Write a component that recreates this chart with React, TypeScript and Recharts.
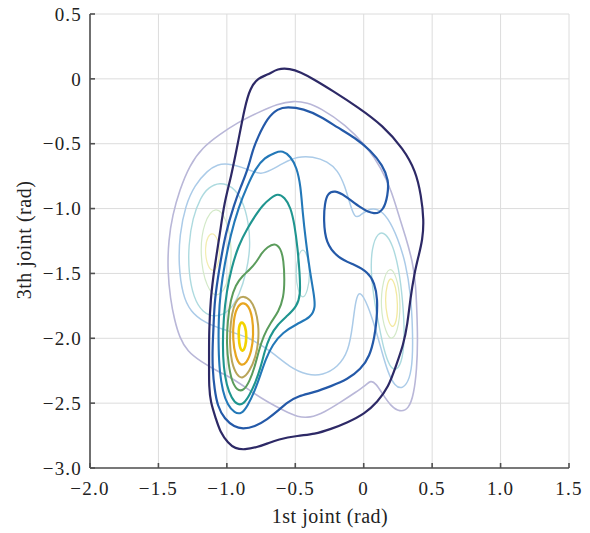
import React from 'react';
import { ScatterChart, Scatter, XAxis, YAxis, CartesianGrid } from 'recharts';

type P = [number, number];

// Bold contour levels (outer to inner)
const navy: P[] = [
  [-0.70, 0.03], [-0.63, 0.08], [-0.54, 0.08], [-0.46, 0.05], [-0.37, 0.0], [-0.23, -0.09], [-0.04, -0.22],
  [0.14, -0.36], [0.29, -0.54], [0.38, -0.71], [0.42, -0.90], [0.44, -1.09], [0.43, -1.24], [0.40, -1.37],
  [0.37, -1.50], [0.34, -1.70], [0.32, -1.89], [0.29, -2.05], [0.24, -2.20], [0.18, -2.38], [0.10, -2.49],
  [0.01, -2.58], [-0.12, -2.65], [-0.24, -2.70], [-0.36, -2.74], [-0.48, -2.75], [-0.63, -2.78], [-0.70, -2.81],
  [-0.78, -2.84], [-0.87, -2.86], [-0.94, -2.85], [-0.99, -2.81], [-1.05, -2.72], [-1.08, -2.62], [-1.12, -2.49],
  [-1.13, -2.37], [-1.13, -2.24], [-1.13, -2.11], [-1.13, -1.96], [-1.12, -1.70], [-1.09, -1.45], [-1.05, -1.19],
  [-1.02, -0.96], [-0.97, -0.76], [-0.92, -0.50], [-0.87, -0.22], [-0.83, -0.07], [-0.77, 0.01],
];
const blue: P[] = [
  [-0.56, -0.215], [-0.44, -0.23], [-0.315, -0.29], [-0.19, -0.376], [-0.066, -0.452], [0.051, -0.552],
  [0.139, -0.667], [0.183, -0.782], [0.176, -0.897], [0.146, -1.012], [0.08, -1.051], [-0.022, -0.997],
  [-0.139, -0.897], [-0.212, -0.859], [-0.263, -0.882], [-0.285, -0.959], [-0.293, -1.089], [-0.278, -1.265],
  [-0.19, -1.38], [-0.066, -1.434], [0.029, -1.488], [0.08, -1.572], [0.102, -1.702], [0.095, -1.856],
  [0.08, -1.986], [0.044, -2.14], [-0.022, -2.239], [-0.117, -2.316], [-0.241, -2.37], [-0.358, -2.416],
  [-0.483, -2.446], [-0.556, -2.492], [-0.629, -2.561], [-0.702, -2.623], [-0.797, -2.684], [-0.885, -2.699],
  [-0.944, -2.684], [-1.017, -2.623], [-1.068, -2.523], [-1.09, -2.393], [-1.105, -2.239], [-1.105, -2.063],
  [-1.097, -1.909], [-1.09, -1.702], [-1.053, -1.449], [-1.01, -1.189], [-0.944, -0.959], [-0.9, -0.836],
  [-0.849, -0.706], [-0.812, -0.552], [-0.775, -0.452], [-0.702, -0.299], [-0.629, -0.23],
];
const steel: P[] = [
  [-0.644, -0.567], [-0.593, -0.552], [-0.534, -0.598], [-0.49, -0.682], [-0.461, -0.821], [-0.446, -1.035],
  [-0.424, -1.242], [-0.395, -1.472], [-0.366, -1.649], [-0.351, -1.764], [-0.388, -1.84], [-0.483, -1.886],
  [-0.593, -1.956], [-0.666, -2.048], [-0.717, -2.163], [-0.753, -2.278], [-0.797, -2.408], [-0.849, -2.523],
  [-0.892, -2.584], [-0.944, -2.577], [-0.995, -2.515], [-1.031, -2.408], [-1.053, -2.255], [-1.061, -2.086],
  [-1.061, -1.856], [-1.046, -1.626], [-1.017, -1.434], [-0.973, -1.204], [-0.914, -0.989], [-0.849, -0.821],
  [-0.79, -0.69], [-0.724, -0.606],
];
const teal: P[] = [
  [-0.68, -0.92], [-0.629, -0.882], [-0.578, -0.913], [-0.534, -0.989], [-0.505, -1.127], [-0.483, -1.304],
  [-0.468, -1.495], [-0.461, -1.664], [-0.49, -1.756], [-0.556, -1.825], [-0.629, -1.894], [-0.688, -1.986],
  [-0.724, -2.101], [-0.753, -2.224], [-0.79, -2.339], [-0.834, -2.439], [-0.878, -2.508], [-0.922, -2.515],
  [-0.966, -2.462], [-1.002, -2.362], [-1.024, -2.224], [-1.031, -2.048], [-1.024, -1.841], [-1.002, -1.641],
  [-0.966, -1.457], [-0.914, -1.281], [-0.849, -1.15], [-0.79, -1.051], [-0.739, -0.974],
];
const green: P[] = [
  [-0.702, -1.296], [-0.651, -1.265], [-0.607, -1.304], [-0.585, -1.396], [-0.578, -1.549], [-0.585, -1.687],
  [-0.622, -1.795], [-0.68, -1.879], [-0.732, -1.979], [-0.768, -2.101], [-0.797, -2.224], [-0.834, -2.331],
  [-0.878, -2.408], [-0.929, -2.4], [-0.966, -2.324], [-0.988, -2.201], [-1.002, -2.048], [-0.995, -1.871],
  [-0.973, -1.702], [-0.936, -1.587], [-0.885, -1.518], [-0.834, -1.472], [-0.783, -1.411], [-0.746, -1.342],
];
const olive: P[] = [
  [-0.878, -1.672], [-0.827, -1.702], [-0.79, -1.779], [-0.768, -1.894], [-0.768, -2.025], [-0.79, -2.147],
  [-0.834, -2.255], [-0.885, -2.316], [-0.929, -2.285], [-0.966, -2.186], [-0.98, -2.048], [-0.973, -1.871],
  [-0.951, -1.756], [-0.922, -1.695],
];
const orange: P[] = [
  [-0.885, -1.718], [-0.841, -1.748], [-0.812, -1.84], [-0.805, -1.971], [-0.819, -2.101], [-0.856, -2.193],
  [-0.9, -2.216], [-0.936, -2.147], [-0.958, -2.009], [-0.951, -1.856], [-0.929, -1.764],
];
const yellow: P[] = [
  [-0.892, -1.864], [-0.863, -1.91], [-0.856, -1.986], [-0.863, -2.063], [-0.885, -2.109], [-0.907, -2.071],
  [-0.914, -1.986], [-0.914, -1.91],
];

// Faint contour levels
const lavender: P[] = [
  [-0.512, -0.169], [-0.629, -0.192], [-0.775, -0.261], [-0.922, -0.337], [-1.053, -0.429], [-1.178, -0.529],
  [-1.273, -0.667], [-1.346, -0.859], [-1.397, -1.051], [-1.426, -1.242], [-1.434, -1.472], [-1.412, -1.702],
  [-1.383, -1.856], [-1.346, -1.994], [-1.288, -2.101], [-1.192, -2.178], [-1.068, -2.255], [-0.944, -2.316],
  [-0.827, -2.408], [-0.702, -2.492], [-0.578, -2.561], [-0.483, -2.607], [-0.395, -2.615], [-0.285, -2.569],
  [-0.168, -2.492], [-0.059, -2.416], [0.015, -2.362], [0.051, -2.324], [0.088, -2.347], [0.139, -2.431],
  [0.198, -2.523], [0.263, -2.569], [0.329, -2.546], [0.366, -2.431], [0.388, -2.239], [0.395, -2.009],
  [0.388, -1.779], [0.38, -1.587], [0.358, -1.411], [0.307, -1.219], [0.249, -1.028], [0.205, -0.874],
  [0.132, -0.69], [0.015, -0.514], [-0.132, -0.353], [-0.322, -0.222], [-0.41, -0.184],
];
const lightBlue: P[] = [
  [-0.995, -0.652], [-0.885, -0.682], [-0.812, -0.713], [-0.753, -0.736], [-0.68, -0.706], [-0.593, -0.652],
  [-0.483, -0.598], [-0.373, -0.598], [-0.263, -0.637], [-0.19, -0.706], [-0.139, -0.821], [-0.102, -0.959],
  [-0.066, -1.074], [-0.029, -1.058], [0.029, -1.005], [0.102, -0.997], [0.176, -1.066], [0.249, -1.227],
  [0.307, -1.419], [0.344, -1.664], [0.358, -1.932], [0.358, -2.163], [0.337, -2.316], [0.285, -2.393],
  [0.227, -2.37], [0.176, -2.262], [0.132, -2.101], [0.088, -1.932], [0.029, -1.741], [-0.029, -1.626],
  [-0.059, -1.702], [-0.08, -1.894], [-0.11, -2.101], [-0.19, -2.224], [-0.3, -2.285], [-0.41, -2.285],
  [-0.541, -2.224], [-0.673, -2.101], [-0.849, -1.986], [-1.031, -1.932], [-1.163, -1.879], [-1.266, -1.795],
  [-1.324, -1.664], [-1.353, -1.434], [-1.346, -1.204], [-1.302, -0.974], [-1.236, -0.821], [-1.141, -0.706],
  [-1.068, -0.66],
];
const cyanLeft: P[] = [
  [-1.053, -0.797], [-0.958, -0.828], [-0.885, -0.936], [-0.841, -1.104], [-0.827, -1.296], [-0.856, -1.488],
  [-0.907, -1.664], [-0.98, -1.795], [-1.083, -1.841], [-1.178, -1.802], [-1.244, -1.687], [-1.28, -1.488],
  [-1.28, -1.281], [-1.251, -1.074], [-1.192, -0.913], [-1.134, -0.836],
];
const cyanRight: P[] = [
  [0.102, -1.181], [0.161, -1.189], [0.212, -1.281], [0.256, -1.457], [0.285, -1.702], [0.3, -1.971],
  [0.285, -2.163], [0.241, -2.255], [0.19, -2.224], [0.146, -2.086], [0.11, -1.894], [0.073, -1.687],
  [0.051, -1.472], [0.059, -1.304],
];
const cyanMid: P[] = [
  [-0.445, -1.3], [-0.41, -1.36], [-0.39, -1.5], [-0.41, -1.64], [-0.445, -1.7], [-0.48, -1.64], [-0.5, -1.5], [-0.48, -1.36],
];
const paleGreenRight: P[] = [
  [0.19, -1.44], [0.24, -1.52], [0.27, -1.7], [0.26, -1.9], [0.21, -2.03], [0.16, -1.96], [0.12, -1.76], [0.14, -1.55],
];
const paleYellowRight: P[] = [
  [0.2, -1.52], [0.235, -1.6], [0.25, -1.74], [0.24, -1.88], [0.205, -1.93], [0.17, -1.84], [0.155, -1.7], [0.17, -1.58],
];
const paleGreenLeft: P[] = [
  [-1.08, -0.97], [-1.0, -1.08], [-0.96, -1.3], [-0.98, -1.55], [-1.06, -1.7], [-1.15, -1.62], [-1.2, -1.35], [-1.17, -1.1],
];
const paleYellowLeft: P[] = [
  [-1.1, -1.18], [-1.06, -1.25], [-1.05, -1.35], [-1.07, -1.46], [-1.11, -1.49], [-1.15, -1.42], [-1.16, -1.3], [-1.14, -1.21],
];

const xTicks = [-2, -1.5, -1, -0.5, 0, 0.5, 1, 1.5];
const yTicks = [-3, -2.5, -2, -1.5, -1, -0.5, 0, 0.5];
const xTitle = '1st joint (rad)';
const yTitle = '3th joint (rad)';

const contours: { pts: P[]; color: string; w: number }[] = [
  { pts: lavender, color: '#b9b7d8', w: 1.6 },
  { pts: lightBlue, color: '#abcbe8', w: 1.5 },
  { pts: cyanLeft, color: '#addadf', w: 1.4 },
  { pts: cyanRight, color: '#addadf', w: 1.4 },
  { pts: cyanMid, color: '#b3dcdc', w: 1.3 },
  { pts: paleGreenLeft, color: '#d3e9c8', w: 1.2 },
  { pts: paleGreenRight, color: '#d3e9c8', w: 1.2 },
  { pts: paleYellowLeft, color: '#f3edb0', w: 1.2 },
  { pts: paleYellowRight, color: '#f3e9a0', w: 1.3 },
  { pts: navy, color: '#2d2966', w: 2.2 },
  { pts: blue, color: '#2459a8', w: 2.2 },
  { pts: steel, color: '#2378b8', w: 2.1 },
  { pts: teal, color: '#1f958f', w: 2.1 },
  { pts: green, color: '#5b9c5c', w: 2 },
  { pts: olive, color: '#b9a55a', w: 2 },
  { pts: orange, color: '#e8a620', w: 2.2 },
  { pts: yellow, color: '#f2d300', w: 2.6 },
];

const fmt = (v: number) => (v === 0 ? '0' : (v < 0 ? '\u2212' : '') + Math.abs(v).toFixed(1));
const blank = () => '';
const NoShape = () => <g />;
const tickStyle = { fill: '#222', fontSize: 19, fontFamily: '"Liberation Serif", serif', letterSpacing: 1.2 };

export default function App() {
  return (
    <div style={{ position: 'absolute', left: 0, top: 0, width: 590, height: 533 }}>
      <ScatterChart width={590} height={533} margin={{ top: 14, right: 21, bottom: 30, left: 20 }}>
        <CartesianGrid stroke="#dcdcdc" strokeWidth={1} />
        <XAxis type="number" dataKey="x" domain={[-2, 1.5]} ticks={xTicks} tickFormatter={fmt} allowDataOverflow
          height={35} stroke="#505050" strokeWidth={1.6} tickSize={-5} tickMargin={19} tick={tickStyle} />
        <YAxis type="number" dataKey="y" domain={[-3, 0.5]} ticks={yTicks} tickFormatter={fmt} allowDataOverflow
          width={70} stroke="#505050" strokeWidth={1.6} tickSize={-5} tickMargin={13} tick={tickStyle} />
        <XAxis xAxisId="top" orientation="top" type="number" dataKey="x" domain={[-2, 1.5]} ticks={xTicks}
          tickFormatter={blank} allowDataOverflow height={0} stroke="#505050" strokeWidth={1.4} tickSize={-5} />
        <YAxis yAxisId="right" orientation="right" type="number" dataKey="y" domain={[-3, 0.5]} ticks={yTicks}
          tickFormatter={blank} allowDataOverflow width={0} stroke="#505050" strokeWidth={1.4} tickSize={-5} />
        {contours.map((c, i) => (
          <Scatter key={i} data={c.pts.map(([x, y]) => ({ x, y }))} line={{ stroke: c.color, strokeWidth: c.w }}
            lineJointType="basisClosed" shape={NoShape} isAnimationActive={false} legendType="none" />
        ))}
      </ScatterChart>
      <div style={{ position: 'absolute', left: 230, top: 506, width: 200, textAlign: 'center', fontFamily: '"Liberation Serif", serif',
        fontSize: 20, lineHeight: '20px', letterSpacing: 0.5, color: '#222', whiteSpace: 'nowrap' }}>{xTitle}</div>
      <div style={{ position: 'absolute', left: -76, top: 230, width: 200, height: 20, textAlign: 'center', fontFamily: '"Liberation Serif", serif',
        fontSize: 20, lineHeight: '20px', letterSpacing: 0.5, color: '#222', whiteSpace: 'nowrap', transform: 'rotate(-90deg)' }}>{yTitle}</div>
    </div>
  );
}
